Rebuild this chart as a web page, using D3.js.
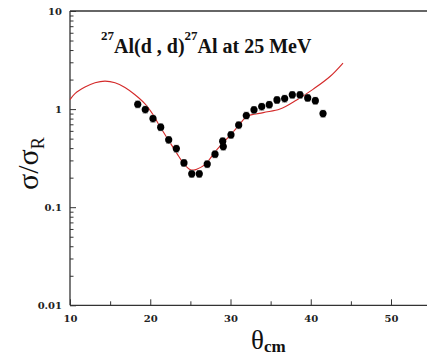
<!DOCTYPE html>
<html>
<head>
<meta charset="utf-8">
<script src="https://cdn.jsdelivr.net/npm/d3@7"></script>
<style>
  html, body { margin: 0; padding: 0; background: #fff; }
  svg { display: block; }
  .serif { font-family: "Liberation Serif", "Times New Roman", serif; }
  .dserif { font-family: "DejaVu Serif", serif; }
</style>
</head>
<body>
<svg id="chart" width="427" height="362"></svg>
<script>
// ---- data ----
const expAngle = [18.44, 19.38, 20.34, 21.30, 22.30, 23.25, 24.20, 25.17, 26.11, 27.10, 28.07, 29.03, 29.10, 30.06, 31.02, 31.97, 32.93, 33.89, 34.83, 35.79, 36.75, 37.70, 38.66, 39.62, 40.57, 41.53];
const expRatio = [1.12, 0.99, 0.80, 0.655, 0.486, 0.396, 0.283, 0.219, 0.219, 0.275, 0.347, 0.471, 0.415, 0.547, 0.687, 0.861, 0.984, 1.06, 1.11, 1.24, 1.28, 1.40, 1.40, 1.30, 1.22, 0.90];
const expErrFrac = [0.08, 0.08, 0.08, 0.08, 0.08, 0.08, 0.08, 0.08, 0.08, 0.08, 0.08, 0.08, 0.08, 0.08, 0.08, 0.08, 0.08, 0.08, 0.08, 0.08, 0.08, 0.08, 0.08, 0.08, 0.08, 0.08];

const fitAngle = [10.0, 10.62, 11.87, 13.12, 14.36, 15.61, 16.85, 18.10, 19.35, 20.38, 21.21, 22.25, 23.30, 24.12, 24.95, 25.40, 25.79, 26.82, 28.28, 29.94, 31.02, 32.02, 34.09, 36.17, 38.25, 40.32, 42.40, 44.02];
const fitRatio = [1.25, 1.44, 1.68, 1.86, 1.93, 1.86, 1.66, 1.40, 1.13, 0.87, 0.664, 0.486, 0.356, 0.281, 0.242, 0.239, 0.244, 0.272, 0.384, 0.54, 0.68, 0.84, 0.92, 1.00, 1.24, 1.60, 2.15, 2.95];

const xTicks = [10, 20, 30, 40, 50];
const xMinorTicks = [15, 25, 35, 45];
const yTicks = [0.01, 0.1, 1, 10];
const yTickLabels = ["0.01", "0.1", "1", "10"];

// ---- layout ----
const svg = d3.select("#chart");
const padLeft = 70, padTop = 11, padBottom = 305.3;
const x = d3.scaleLinear().domain([10, 55]).range([padLeft, padLeft + 8.025 * 45]);
const y = d3.scaleLog().domain([0.01, 10]).range([padBottom, padTop]);
const axisColor = "#333";

// frame: top and left lines, bottom axis
svg.append("line").attr("x1", padLeft).attr("x2", x(55)).attr("y1", padTop).attr("y2", padTop)
  .attr("stroke", axisColor).attr("stroke-width", 1.3);
svg.append("line").attr("x1", padLeft).attr("x2", padLeft).attr("y1", padTop).attr("y2", padBottom)
  .attr("stroke", axisColor).attr("stroke-width", 1.3);
svg.append("line").attr("x1", padLeft).attr("x2", x(55)).attr("y1", padBottom).attr("y2", padBottom)
  .attr("stroke", axisColor).attr("stroke-width", 1.3);

// x axis ticks (inward)
const xAxis = d3.axisBottom(x).tickValues(xTicks).tickSizeInner(-6).tickSizeOuter(0).tickPadding(10)
  .tickFormat(d3.format("d"));
const gx = svg.append("g").attr("transform", `translate(0,${padBottom})`).call(xAxis);
gx.attr("font-family", null).attr("font-size", null);
gx.select(".domain").remove();
gx.selectAll(".tick line").attr("stroke", axisColor).attr("stroke-width", 1);
gx.selectAll(".tick text").attr("class", "dserif").style("font-weight", "bold")
  .style("font-size", "10px").attr("fill", "#222");
const xAxisMinor = d3.axisBottom(x).tickValues(xMinorTicks).tickSizeInner(-4).tickSizeOuter(0).tickFormat("");
const gxm = svg.append("g").attr("transform", `translate(0,${padBottom})`).call(xAxisMinor);
gxm.select(".domain").remove();
gxm.selectAll(".tick line").attr("stroke", axisColor).attr("stroke-width", 1);

// y axis ticks (inward)
const yAxis = d3.axisLeft(y).tickValues(yTicks).tickSizeInner(-6).tickSizeOuter(0).tickPadding(8)
  .tickFormat((d, i) => yTickLabels[i]);
const gy = svg.append("g").attr("transform", `translate(${padLeft},0)`).call(yAxis);
gy.attr("font-family", null).attr("font-size", null);
gy.select(".domain").remove();
gy.selectAll(".tick line").attr("stroke", axisColor).attr("stroke-width", 1);
gy.selectAll(".tick text").attr("class", "dserif").style("font-weight", "bold")
  .style("font-size", "10px").attr("fill", "#222");
const yMinor = [];
[0.01, 0.1, 1].forEach(dec => { for (let k = 2; k <= 9; k++) yMinor.push(dec * k); });
const yAxisMinor = d3.axisLeft(y).tickValues(yMinor).tickSizeInner(-3.5).tickSizeOuter(0).tickFormat("");
const gym = svg.append("g").attr("transform", `translate(${padLeft},0)`).call(yAxisMinor);
gym.select(".domain").remove();
gym.selectAll(".tick line").attr("stroke", axisColor).attr("stroke-width", 1);

// fit curve
const fit = fitAngle.map((a, i) => [a, fitRatio[i]]);
svg.append("path").datum(fit)
  .attr("d", d3.line().x(d => x(d[0])).y(d => y(d[1])).curve(d3.curveCatmullRom.alpha(0.5)))
  .attr("fill", "none").attr("stroke", "#d42a2a").attr("stroke-width", 1.1);

// error bars
const exp = expAngle.map((a, i) => ({ a, v: expRatio[i], e: expRatio[i] * expErrFrac[i] }));
const eb = svg.append("g").attr("stroke", "#888").attr("stroke-width", 1);
exp.forEach(d => {
  eb.append("line").attr("x1", x(d.a)).attr("x2", x(d.a)).attr("y1", y(d.v - d.e)).attr("y2", y(d.v + d.e));
  eb.append("line").attr("x1", x(d.a) - 2.5).attr("x2", x(d.a) + 2.5).attr("y1", y(d.v - d.e)).attr("y2", y(d.v - d.e));
  eb.append("line").attr("x1", x(d.a) - 2.5).attr("x2", x(d.a) + 2.5).attr("y1", y(d.v + d.e)).attr("y2", y(d.v + d.e));
});
// points
svg.append("g").selectAll("circle").data(exp).join("circle")
  .attr("cx", d => x(d.a)).attr("cy", d => y(d.v)).attr("r", 3.6).attr("fill", "#000");

// title
const title = svg.append("text").attr("class", "serif").attr("x", 101).attr("y", 53)
  .style("font-weight", "bold").attr("fill", "#111");
title.append("tspan").style("font-size", "13px").attr("dy", -13).text("27");
title.append("tspan").style("font-size", "20px").attr("dy", 13).text("Al(d , d)");
title.append("tspan").style("font-size", "13px").attr("dy", -13).text("27");
title.append("tspan").style("font-size", "20px").attr("dy", 13).text("Al at 25 MeV");

// y label
const yl = svg.append("text").attr("class", "serif").attr("transform", "translate(38,190) rotate(-90)")
  .attr("fill", "#111");
yl.append("tspan").style("font-size", "30px").text("σ/σ");
yl.append("tspan").style("font-size", "18px").attr("dy", 6).text("R");

// x label
const xl = svg.append("text").attr("class", "serif").attr("x", 251).attr("y", 349).attr("fill", "#111");
xl.append("tspan").style("font-size", "27px").text("θ");
xl.append("tspan").style("font-size", "17px").style("font-weight", "bold").attr("dy", 3).text("cm");
</script>
</body>
</html>
